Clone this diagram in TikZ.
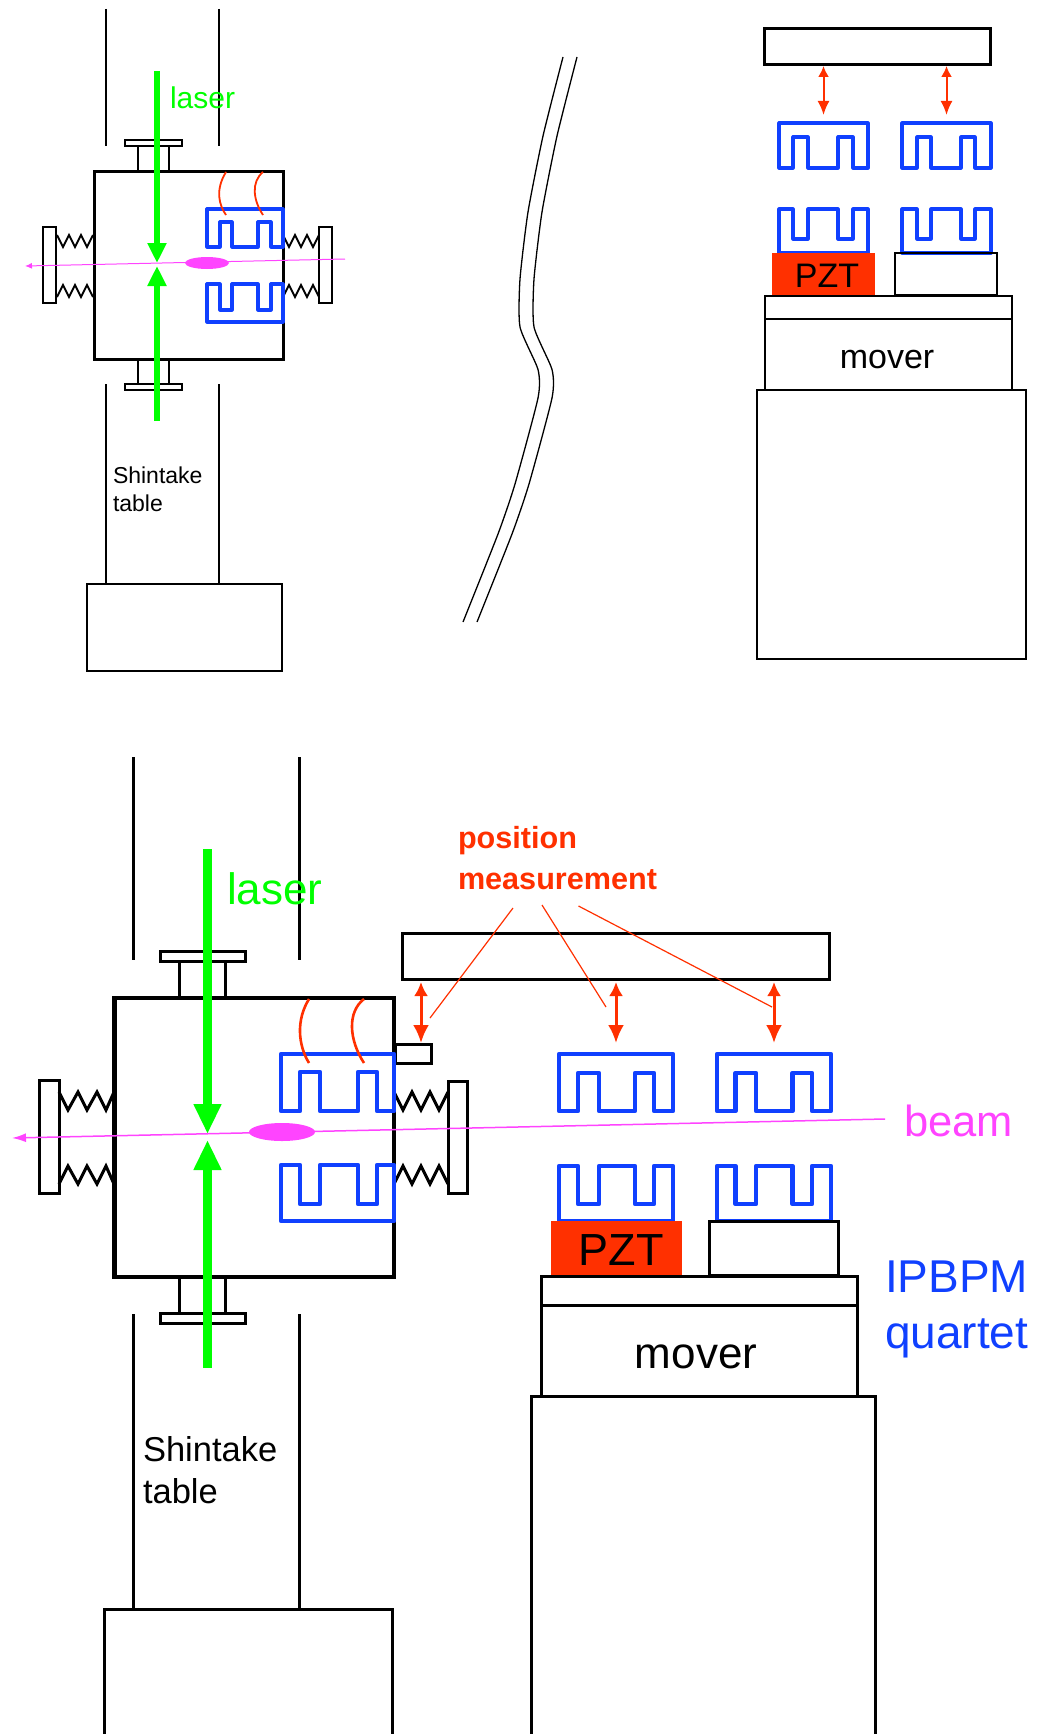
\documentclass[tikz,border=0pt]{standalone}
\usepackage{fontspec}
\setmainfont{Liberation Sans}
\usetikzlibrary{arrows.meta}

\definecolor{lasergreen}{HTML}{00FF00}
\definecolor{measred}{HTML}{FF3000}
\definecolor{bpmblue}{HTML}{1040FF}
\definecolor{beampink}{HTML}{FF44FF}

\tikzset{
  label/.style={inner sep=0pt, outer sep=0pt},
  hairblk/.style={draw=black, line width=1.3pt},
  thinblk/.style={draw=black, line width=2pt, line join=miter},
  thickblk/.style={draw=black, line width=3pt, line join=miter},
  heavyblk/.style={draw=black, line width=3pt, line join=miter},
  fatblk/.style={draw=black, line width=4.5pt, line join=miter},
  bpmsmall/.style={draw=bpmblue, line width=3.2pt, line join=round},
  bpmbig/.style={draw=bpmblue, line width=4.4pt, line join=round}
}

\begin{document}
\begin{tikzpicture}[x=1pt,y=-1pt]

\useasboundingbox (0,0) rectangle (1047,1734);

\draw [thinblk] (106,9) -- (106,146);
\draw [thinblk] (219,9) -- (219,146);
\draw [thinblk] (106,384) -- (106,584);
\draw [thinblk] (219,384) -- (219,584);
\draw [thinblk] (87,584) rectangle (282,671);
\draw [thinblk] (125,140) rectangle (182,146);
\draw [thinblk] (137.5,146) -- (137.5,171);
\draw [thinblk] (169,146) -- (169,171);
\draw [thinblk] (125,384) rectangle (182,390);
\draw [thinblk] (137.5,359) -- (137.5,384);
\draw [thinblk] (169,359) -- (169,384);
\draw [heavyblk] (94,171) rectangle (283,359);
\draw [thinblk] (43,227) rectangle (56,303);
\draw [thinblk] (319,227) rectangle (332,303);

\draw [thinblk] (57,235) -- (63,247) -- (69,235) -- (75,247) -- (81,235) -- (87,247) -- (93,235);
\draw [thinblk] (57,297) -- (63,285) -- (69,297) -- (75,285) -- (81,297) -- (87,285) -- (93,297);
\draw [thinblk] (283,235) -- (289,247) -- (295,235) -- (301,247) -- (307,235) -- (313,247) -- (319,235);
\draw [thinblk] (283,297) -- (289,285) -- (295,297) -- (301,285) -- (307,297) -- (313,285) -- (319,297);

\draw [bpmsmall] (207,209) -- (283,209) -- (283,247) -- (271,247) -- (271,222) -- (258,222) -- (258,247) -- (232,247) -- (232,222) -- (220,222) -- (220,247) -- (207,247) -- cycle;
\draw [bpmsmall] (207,322) -- (283,322) -- (283,284) -- (271,284) -- (271,310) -- (258,310) -- (258,284) -- (232,284) -- (232,310) -- (220,310) -- (220,284) -- (207,284) -- cycle;
\draw [measred, line width=1.8pt] (226,172) .. controls (215,190) and (219,205) .. (226,215);
\draw [measred, line width=1.8pt] (263,172) .. controls (251,182) and (253,200) .. (263,215);

\draw [-{Triangle[length=20pt,width=18pt]}, lasergreen, line width=5.5pt] (157,71) -- (157,263);
\draw [-{Triangle[length=20pt,width=18pt]}, lasergreen, line width=5.5pt] (157,421) -- (157,266);
\draw [-{Latex[length=7pt,width=6pt]}, beampink, line width=1pt] (345,259) -- (25,266);
\fill [beampink] (207,263) ellipse (22pt and 6pt);
\node [label, anchor=west, text=lasergreen, font=\fontsize{30}{36}\selectfont] (laserone) at (170,98) {laser};
\node [label, anchor=west, align=left, font=\fontsize{23}{28}\selectfont] (tableone) at (113,489) {Shintake\\table};

\draw [hairblk] plot [smooth, tension=0.35] coordinates {(563,57) (543,136) (528,212) (520,279) (520,327) (538,369.5) (538,398) (515,484) (498,534) (463,622)};
\draw [hairblk] plot [smooth, tension=0.35] coordinates {(577,57) (557,136) (542,212) (534,279) (534,327) (552,369.5) (552,398) (529,484) (512,534) (477,622)};

\draw [heavyblk] (764.5,29) rectangle (990,65);
\draw [{Latex[length=11pt,width=11pt]}-{Latex[length=14pt,width=12pt]}, measred, line width=2pt] (823.5,66) -- (823.5,115);
\draw [{Latex[length=11pt,width=11pt]}-{Latex[length=14pt,width=12pt]}, measred, line width=2pt] (946.5,66) -- (946.5,115);
\draw [bpmsmall] (779,123) -- (868,123) -- (868,168) -- (853,168) -- (853,137) -- (838,137) -- (838,168) -- (808,168) -- (808,137) -- (793,137) -- (793,168) -- (779,168) -- cycle;
\draw [bpmsmall] (902,123) -- (991,123) -- (991,168) -- (975,168) -- (975,137) -- (961,137) -- (961,168) -- (931,168) -- (931,137) -- (917,137) -- (917,168) -- (902,168) -- cycle;
\draw [bpmsmall] (779,253) -- (868,253) -- (868,209) -- (853,209) -- (853,239) -- (838,239) -- (838,209) -- (808,209) -- (808,239) -- (793,239) -- (793,209) -- (779,209) -- cycle;
\draw [bpmsmall] (902,253) -- (991,253) -- (991,209) -- (975,209) -- (975,239) -- (961,239) -- (961,209) -- (931,209) -- (931,239) -- (917,239) -- (917,209) -- (902,209) -- cycle;
\fill [measred] (772,253) rectangle (875,295);
\node [label, font=\fontsize{34}{40}\selectfont] (pztone) at (827,276) {PZT};
\draw [thinblk] (895,253) rectangle (997,295);
\draw [thinblk] (765,296) rectangle (1012,319);
\draw [thinblk] (765,319) rectangle (1012,390);
\draw [thinblk] (757,390) rectangle (1026,659);
\node [label, font=\fontsize{34}{40}\selectfont] (moverone) at (887,360) {mover};

\draw [thickblk] (133,757) -- (133,960);
\draw [thickblk] (299.5,757) -- (299.5,960);
\draw [thickblk] (133,1314) -- (133,1609);
\draw [thickblk] (299.5,1314) -- (299.5,1609);
\draw [thickblk] (104,1734) -- (104,1609) -- (392,1609) -- (392,1734);
\draw [thickblk] (160,951) rectangle (245,961);
\draw [thickblk] (179,961) -- (179,998);
\draw [thickblk] (225,961) -- (225,998);
\draw [thickblk] (160,1313) rectangle (245,1323);
\draw [thickblk] (179,1277) -- (179,1313);
\draw [thickblk] (225,1277) -- (225,1313);
\draw [fatblk] (114.5,998) rectangle (394,1277);
\draw [thickblk] (39,1080) rectangle (59,1193);
\draw [thickblk] (448,1081) rectangle (467,1193);
\draw [thickblk] (395,1044) rectangle (431,1063);

\draw [thickblk] (59,1092) -- (68,1110) -- (78,1092) -- (87,1110) -- (97,1092) -- (106,1110) -- (114,1092);
\draw [thickblk] (59,1184) -- (68,1166) -- (78,1184) -- (87,1166) -- (97,1184) -- (106,1166) -- (114,1184);
\draw [thickblk] (394,1092) -- (403,1110) -- (412,1092) -- (421,1110) -- (430,1092) -- (439,1110) -- (448,1092);
\draw [thickblk] (394,1184) -- (403,1166) -- (412,1184) -- (421,1166) -- (430,1184) -- (439,1166) -- (448,1184);

\draw [bpmbig] (281,1054) -- (394,1054) -- (394,1111) -- (377,1111) -- (377,1072) -- (358,1072) -- (358,1111) -- (320,1111) -- (320,1072) -- (300,1072) -- (300,1111) -- (281,1111) -- cycle;
\draw [bpmbig] (281,1221) -- (394,1221) -- (394,1165) -- (377,1165) -- (377,1204) -- (358,1204) -- (358,1165) -- (320,1165) -- (320,1204) -- (300,1204) -- (300,1165) -- (281,1165) -- cycle;
\draw [measred, line width=2.6pt] (309,999) .. controls (296,1020) and (298,1045) .. (309,1063);
\draw [measred, line width=2.6pt] (364,999) .. controls (347,1012) and (349,1040) .. (364,1063);

\draw [thickblk] (402,933) rectangle (829,979);
\draw [{Latex[length=14pt,width=14pt]}-{Latex[length=18pt,width=16pt]}, measred, line width=3pt] (421,982) -- (421,1043);
\draw [{Latex[length=14pt,width=14pt]}-{Latex[length=18pt,width=16pt]}, measred, line width=3pt] (616,982) -- (616,1043);
\draw [{Latex[length=14pt,width=14pt]}-{Latex[length=18pt,width=16pt]}, measred, line width=3pt] (774,982) -- (774,1043);
\draw [measred, line width=1.2pt] (513,908) -- (430,1018);
\draw [measred, line width=1.2pt] (542,905) -- (606,1007);
\draw [measred, line width=1.2pt] (578.5,906) -- (772,1007);
\node [label, anchor=west, align=left, text=measred, font=\bfseries\fontsize{30.6}{41}\selectfont] (posmeas) at (458,858) {position\\measurement};

\draw [bpmbig] (559,1054) -- (673,1054) -- (673,1111) -- (654,1111) -- (654,1073) -- (635,1073) -- (635,1111) -- (599,1111) -- (599,1073) -- (578,1073) -- (578,1111) -- (559,1111) -- cycle;
\draw [bpmbig] (717,1054) -- (831,1054) -- (831,1111) -- (812,1111) -- (812,1073) -- (792.5,1073) -- (792.5,1111) -- (756,1111) -- (756,1073) -- (735.5,1073) -- (735.5,1111) -- (717,1111) -- cycle;
\draw [bpmbig] (559,1221) -- (673,1221) -- (673,1166) -- (654,1166) -- (654,1204) -- (635,1204) -- (635,1166) -- (599,1166) -- (599,1204) -- (578,1204) -- (578,1166) -- (559,1166) -- cycle;
\draw [bpmbig] (717,1221) -- (831,1221) -- (831,1166) -- (812,1166) -- (812,1204) -- (792.5,1204) -- (792.5,1166) -- (756,1166) -- (756,1204) -- (735.5,1204) -- (735.5,1166) -- (717,1166) -- cycle;
\fill [measred] (551,1221) rectangle (682,1275);
\node [label, font=\fontsize{45}{52}\selectfont] (pzttwo) at (621,1250) {PZT};
\draw [thickblk] (709,1221) rectangle (838,1275);
\draw [thickblk] (541,1276) rectangle (857,1305);
\draw [thickblk] (541,1305) rectangle (857,1396);
\draw [thickblk] (531,1734) -- (531,1396) -- (875,1396) -- (875,1734);
\node [label, font=\fontsize{44}{52}\selectfont] (movertwo) at (696,1357) {mover};

\draw [-{Triangle[length=30pt,width=26pt]}, lasergreen, line width=9pt] (207.5,849) -- (207.5,1134);
\draw [-{Triangle[length=30pt,width=26pt]}, lasergreen, line width=9pt] (207.5,1368) -- (207.5,1140);
\draw [-{Latex[length=14pt,width=9pt]}, beampink, line width=1.5pt] (885,1119) -- (12,1138);
\fill [beampink] (282,1132) ellipse (33pt and 9pt);

\node [label, anchor=west, text=lasergreen, font=\fontsize{44}{52}\selectfont] (lasertwo) at (227,889) {laser};
\node [label, anchor=west, text=beampink, font=\fontsize{43.5}{50}\selectfont] (beamlab) at (904,1121) {beam};
\node [label, anchor=west, align=left, text=bpmblue, font=\fontsize{46}{56}\selectfont] (quartet) at (885,1309) {IPBPM\\quartet};
\node [label, anchor=west, align=left, font=\fontsize{34.5}{42}\selectfont] (tabletwo) at (143,1470) {Shintake\\table};

\end{tikzpicture}
\end{document}
